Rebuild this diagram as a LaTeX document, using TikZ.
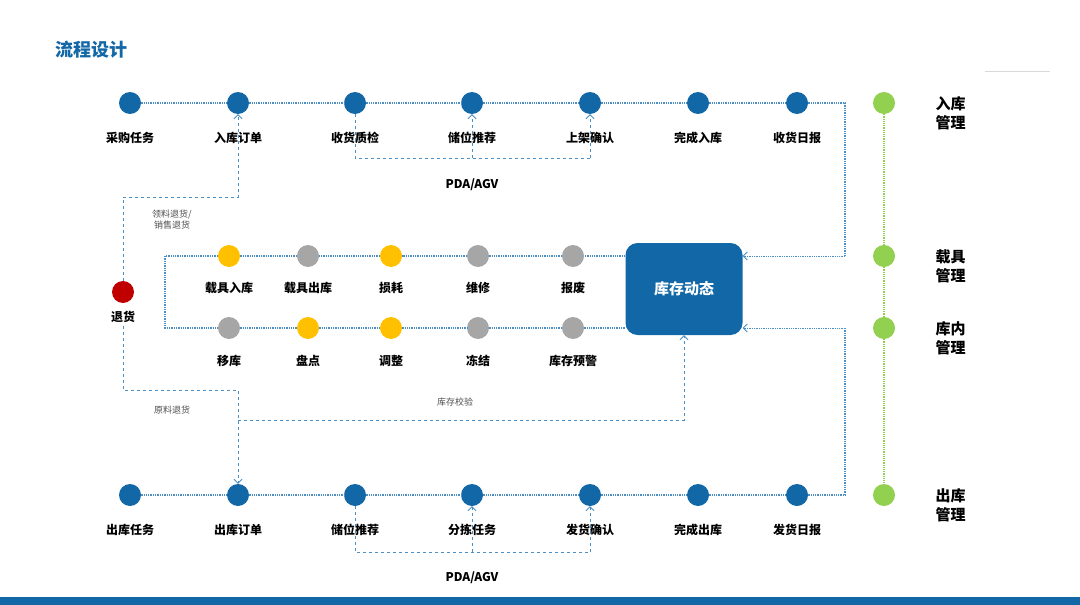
\documentclass[tikz,border=0pt]{standalone}
\usepackage{fontspec}
\newfontfamily\cjk{Noto Sans CJK SC}
\usetikzlibrary{positioning,arrows.meta}
\definecolor{darkblue}{HTML}{1268A6}
\definecolor{lineblue}{HTML}{4C8FC4}
\definecolor{goldy}{HTML}{FFC000}
\definecolor{grayc}{HTML}{A6A6A6}
\definecolor{greenc}{HTML}{92D050}
\definecolor{redc}{HTML}{C00000}
\begin{document}
\begin{tikzpicture}[x=1pt,y=-1pt,font=\cjk\bfseries\fontsize{12}{14}\selectfont,
  dot/.style={circle,fill=#1,minimum size=22pt,inner sep=0pt},
  lab/.style={font=\cjk\bfseries\fontsize{12}{14}\selectfont},
  small/.style={font=\cjk\fontsize{9}{11}\selectfont,text=black!70},
  chain/.style={lineblue,densely dotted,line width=1.3pt},
  dashln/.style={lineblue,dashed,line width=0.8pt},
  arr/.style={-{Straight Barb[length=4pt,width=8pt]}}]
\useasboundingbox (0,0) rectangle (1080,605);
\fill[darkblue] (0,597) rectangle (1080,605);
\draw[black!15] (985,71) -- (1050,71);
\node[anchor=west,text=darkblue,font=\cjk\bfseries\fontsize{18}{20}\selectfont] (title) at (52,50) {流程设计};
% 入库
\foreach \x/\t [count=\i] in {130/采购任务,238/入库订单,355/收货质检,472/储位推荐,590/上架确认,698/完成入库,797/收货日报}{
  \node[dot=darkblue] (a\i) at (\x,103) {};
  \node[lab] (al\i) at (\x,138) {\t};
}
\draw[chain] (a1) -- (a2) -- (a3) -- (a4) -- (a5) -- (a6) -- (a7) -- (845,103) coordinate (ac) -- (845,256) coordinate (ad);
% 出库
\foreach \x/\t [count=\i] in {130/出库任务,238/出库订单,355/储位推荐,472/分拣任务,590/发货确认,698/完成出库,797/发货日报}{
  \node[dot=darkblue] (b\i) at (\x,495) {};
  \node[lab] (bl\i) at (\x,530) {\t};
}
\draw[chain] (b1) -- (b2) -- (b3) -- (b4) -- (b5) -- (b6) -- (b7) -- (845,495) coordinate (bc) -- (845,328) coordinate (bd);
% 库存动态
\node[rounded corners=12pt,fill=darkblue,minimum width=117pt,minimum height=92pt,text=white,font=\cjk\bfseries\fontsize{15}{17}\selectfont] (kc) at (684,289) {库存动态};
\draw[chain,densely dotted,line width=0.8pt,arr] (ad) -- (ad -| kc.east);
\draw[chain,densely dotted,line width=0.8pt,arr] (bd) -- (bd -| kc.east);
% 库内
\foreach \x/\c/\t [count=\i] in {229/goldy/载具入库,308/grayc/载具出库,391/goldy/损耗,478/grayc/维修,573/grayc/报废}{
  \node[dot=\c] (m\i) at (\x,256) {};
  \node[lab] (ml\i) at (\x,288) {\t};
}
\foreach \x/\c/\t [count=\i] in {229/grayc/移库,308/goldy/盘点,391/goldy/调整,478/grayc/冻结,573/grayc/库存预警}{
  \node[dot=\c] (n\i) at (\x,328) {};
  \node[lab] (nl\i) at (\x,361) {\t};
}
\draw[chain] (kc.west |- m5) -- (m5) -- (m4) -- (m3) -- (m2) -- (m1) -- (165,256) -- (165,328) -- (n1) -- (n2) -- (n3) -- (n4) -- (n5) -- (kc.west |- n5);
% PDA/AGV
\draw[dashln] (a3) -- (355,158) -- (590,158);
\draw[dashln,arr] (472,158) -- (a4);
\draw[dashln,arr] (590,158) -- (a5);
\node[lab] (pda1) at (472,185) {PDA/AGV};
\draw[dashln] (b3) -- (355,552) -- (590,552);
\draw[dashln,arr] (472,552) -- (b4);
\draw[dashln,arr] (590,552) -- (b5);
\node[lab] (pda2) at (472,578) {PDA/AGV};
% 退货
\node[dot=redc] (th) at (123,292) {};
\node[lab] (thl) at (123,317) {退货};
\draw[dashln,arr] (th) -- (123,197) -- (238,197) -- (a2);
\node[small,align=center] (ll) at (172,220) {领料退货/\\销售退货};
\draw[dashln,arr] (thl) -- (123,390) -- (238,390) -- (b2);
\node[small] (yl) at (172,410) {原料退货};
\draw[dashln,arr] (238,420) -- (684,420) -- (kc);
\node[small] (jy) at (455,402) {库存校验};
% 管理
\foreach \y/\t [count=\i] in {103/入库,256/载具,328/库内,495/出库}{
  \node[dot=greenc] (g\i) at (884,\y) {};
  \node[anchor=west,align=left,font=\cjk\bfseries\fontsize{15}{19}\selectfont] (gl\i) at (932,\y+10) {\t\\管理};
}
\draw[greenc,densely dotted,line width=1.2pt] (g1) -- (g2) -- (g3) -- (g4);
\end{tikzpicture}
\end{document}
